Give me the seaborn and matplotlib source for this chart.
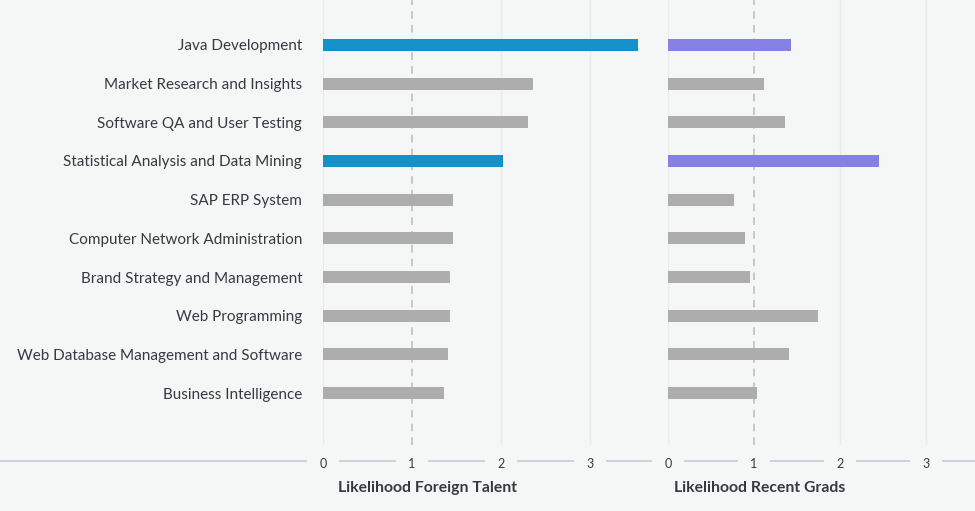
import matplotlib
matplotlib.use("Agg")
import matplotlib.pyplot as plt
from matplotlib.lines import Line2D
import seaborn as sns
import pandas as pd

skills = [
    "Java Development",
    "Market Research and Insights",
    "Software QA and User Testing",
    "Statistical Analysis and Data Mining",
    "SAP ERP System",
    "Computer Network Administration",
    "Brand Strategy and Management",
    "Web Programming",
    "Web Database Management and Software",
    "Business Intelligence",
]
foreign_talent = [3.54, 2.36, 2.30, 2.02, 1.46, 1.46, 1.43, 1.43, 1.40, 1.36]
recent_grads = [1.43, 1.12, 1.36, 2.45, 0.77, 0.90, 0.95, 1.75, 1.41, 1.04]
highlighted = ["Java Development", "Statistical Analysis and Data Mining"]
xticks = [0, 1, 2, 3]
xlabel_left = "Likelihood Foreign Talent"
xlabel_right = "Likelihood Recent Grads"

BG = "#f5f7f7"
GRAY = "#adadad"
BLUE = "#1591c9"
PURPLE = "#8480e6"
TEXT = "#353a40"
GRID = "#e9ebec"
DASH = "#b6bbc4"
AXLINE = "#c4c6d6"

sns.set_theme(style="white")
plt.rcParams["font.family"] = ["Lato", "DejaVu Sans"]

df = pd.DataFrame({"skill": skills, "foreign": foreign_talent, "grads": recent_grads})

W, H = 975, 511
fig = plt.figure(figsize=(W / 100, H / 100), dpi=100, facecolor=BG)

top_px, bottom_px = 0, 445
ax_h = (bottom_px - top_px) / H
ax_y = (H - bottom_px) / H

axL = fig.add_axes([323 / W, ax_y, (645 - 323) / W, ax_h])
axR = fig.add_axes([668 / W, ax_y, (975 - 668) / W, ax_h])

pal_left = {s: (BLUE if s in highlighted else GRAY) for s in skills}
pal_right = {s: (PURPLE if s in highlighted else GRAY) for s in skills}

sns.barplot(data=df, x="foreign", y="skill", hue="skill", palette=pal_left,
            orient="h", width=0.31, legend=False, ax=axL, saturation=1)
sns.barplot(data=df, x="grads", y="skill", hue="skill", palette=pal_right,
            orient="h", width=0.31, legend=False, ax=axR, saturation=1)

for ax, xmax in ((axL, 3.62), (axR, 3.57)):
    ax.set_facecolor(BG)
    ax.set_xlim(0, xmax)
    ax.set_ylim(10.34, -1.16)
    for s in ax.spines.values():
        s.set_visible(False)
    ax.set_xticks(xticks)
    for xv in xticks:
        if xv == 1:
            ax.axvline(xv, color=DASH, lw=1.1, ls=(0, (5, 4)), zorder=0.5)
        else:
            ax.axvline(xv, color=GRID, lw=1.0, zorder=0.5)
    ax.set_xlabel("")
    ax.set_ylabel("")
    ax.tick_params(axis="x", length=0, pad=9, labelsize=9, labelcolor=TEXT)
    for lab in ax.get_xticklabels():
        lab.set_bbox(dict(boxstyle="square,pad=1.0", facecolor=BG, edgecolor="none"))
    for p in ax.patches:
        p.set_edgecolor("none")
        p.set_zorder(2)

axL.tick_params(axis="y", length=0, pad=15, labelsize=11, labelcolor=TEXT)
axR.tick_params(axis="y", left=False, labelleft=False, length=0)

fig.add_artist(Line2D([0, 1], [(H - 461) / H] * 2, transform=fig.transFigure,
                      color=AXLINE, lw=1.1, zorder=-1))

fig.text(338 / W, (H - 488) / H, xlabel_left, fontsize=11.3, fontweight="bold",
         color=TEXT, ha="left", va="center")
fig.text(674 / W, (H - 488) / H, xlabel_right, fontsize=11.3, fontweight="bold",
         color=TEXT, ha="left", va="center")

fig.savefig("out.png", dpi=100, facecolor=BG)
